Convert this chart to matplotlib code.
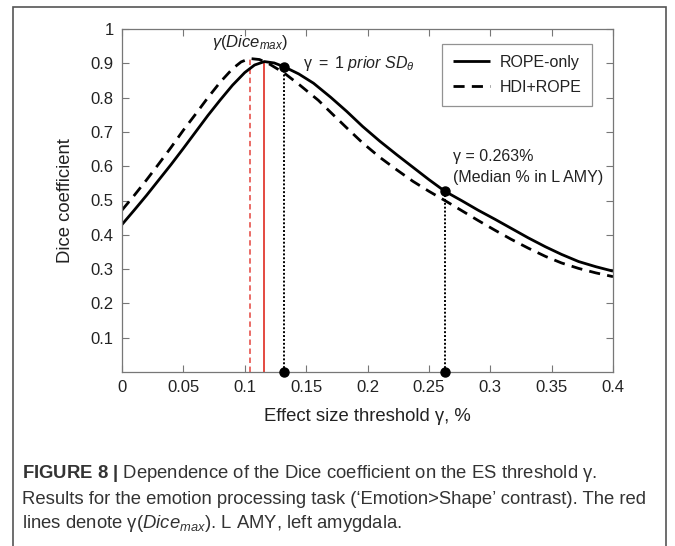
import matplotlib
matplotlib.use("Agg")
import matplotlib.pyplot as plt
from matplotlib.patches import Rectangle

plt.rcParams['font.family'] = ['Liberation Sans', 'DejaVu Sans']
plt.rcParams['mathtext.fontset'] = 'custom'
plt.rcParams['mathtext.rm'] = 'Liberation Sans'
plt.rcParams['mathtext.it'] = 'Liberation Sans:italic'
plt.rcParams['mathtext.bf'] = 'Liberation Sans:bold'

# ---- data ----
rope_x = [0.0, 0.01, 0.02, 0.03, 0.04, 0.05, 0.06, 0.07, 0.08, 0.09, 0.10, 0.108,
          0.116, 0.124, 0.132, 0.144, 0.156, 0.17, 0.183, 0.196, 0.21, 0.224,
          0.237, 0.25, 0.263, 0.277, 0.29, 0.304, 0.317, 0.331, 0.345, 0.358,
          0.372, 0.386, 0.4]
rope_y = [0.430, 0.472, 0.515, 0.560, 0.605, 0.652, 0.700, 0.748, 0.793, 0.836, 0.873, 0.895,
          0.905, 0.901, 0.890, 0.869, 0.842, 0.801, 0.760, 0.716, 0.673, 0.633,
          0.597, 0.561, 0.527, 0.499, 0.472, 0.445, 0.419, 0.391, 0.365, 0.343,
          0.322, 0.307, 0.294]

hdi_x = [0.0, 0.01, 0.02, 0.03, 0.04, 0.05, 0.06, 0.07, 0.08, 0.09, 0.097, 0.104,
         0.112, 0.12, 0.132, 0.145, 0.16, 0.17, 0.183, 0.196, 0.21, 0.224,
         0.237, 0.25, 0.263, 0.277, 0.29, 0.304, 0.317, 0.331, 0.345, 0.358,
         0.372, 0.386, 0.4]
hdi_y = [0.472, 0.515, 0.560, 0.607, 0.655, 0.705, 0.752, 0.800, 0.845, 0.884, 0.904, 0.914,
         0.911, 0.898, 0.872, 0.836, 0.792, 0.757, 0.712, 0.668, 0.626, 0.589,
         0.556, 0.527, 0.500, 0.470, 0.442, 0.413, 0.387, 0.361, 0.337, 0.318,
         0.302, 0.289, 0.278]

peak_rope = (0.116, 0.905)
peak_hdi = (0.104, 0.914)
marked_x = [0.132, 0.263]
marked_y = [0.890, 0.527]

x_ticks = [0, 0.05, 0.1, 0.15, 0.2, 0.25, 0.3, 0.35, 0.4]
x_ticklabels = ['0', '0.05', '0.1', '0.15', '0.2', '0.25', '0.3', '0.35', '0.4']
y_ticks = [0.1, 0.2, 0.3, 0.4, 0.5, 0.6, 0.7, 0.8, 0.9, 1.0]
y_ticklabels = ['0.1', '0.2', '0.3', '0.4', '0.5', '0.6', '0.7', '0.8', '0.9', '1']

W, H = 675, 546
fig = plt.figure(figsize=(W / 100, H / 100), dpi=100)
ax = fig.add_axes([122 / W, 1 - 372 / H, (613 - 122) / W, (372 - 29) / H])

red = '#e23a32'
ax.plot([peak_hdi[0], peak_hdi[0]], [0, peak_hdi[1]], color='#e8605a', lw=1.3, ls=(0, (3, 2)))
ax.plot([peak_rope[0], peak_rope[0]], [0, peak_rope[1]], color=red, lw=1.3)

for mx, my in zip(marked_x, marked_y):
    ax.plot([mx, mx], [0, my], color='black', lw=1.4, ls=(0, (1, 1)))
    ax.plot([mx, mx], [0, my], 'o', color='black', ms=6.5, clip_on=False, zorder=5)

ax.plot(rope_x, rope_y, color='black', lw=2.0, label='ROPE-only', solid_capstyle='butt')
ax.plot(hdi_x, hdi_y, color='black', lw=2.0, ls=(0, (4, 2.6)), label='HDI+ROPE')

ax.set_xlim(0, 0.4)
ax.set_ylim(0, 1)
ax.set_xticks(x_ticks)
ax.set_xticklabels(x_ticklabels)
ax.set_yticks(y_ticks)
ax.set_yticklabels(y_ticklabels)
ax.tick_params(direction='in', top=True, right=True, length=5, width=0.8,
               color='#777777', labelsize=12, labelcolor='#222222', pad=6)
for s in ax.spines.values():
    s.set_color('#777777')
    s.set_linewidth(0.9)

ax.set_xlabel('Effect size threshold γ, %', fontsize=13.3, color='#222222', labelpad=9)
ax.set_ylabel('Dice coefficient', fontsize=13.3, color='#222222', labelpad=12)

ax.text(0.104, 0.962, r'$\gamma(Dice_{max})$', fontsize=12, ha='center', va='center', color='#222222')
ax.text(0.1475, 0.90, r'$\mathrm{\gamma\ =\ 1}\ prior\ SD_{\theta}$', fontsize=11.5,
        ha='left', va='center', color='#222222')
ax.text(0.2697, 0.627, 'γ = 0.263%', fontsize=11.5, ha='left', va='center', color='#222222')
ax.text(0.2697, 0.568, '(Median % in L AMY)', fontsize=11.5, ha='left', va='center', color='#222222')

leg = ax.legend(loc='upper right', bbox_to_anchor=(0.958, 0.957), fontsize=11.5,
                frameon=True, fancybox=False, edgecolor='#777777', handlelength=2.3,
                handletextpad=0.6, borderpad=0.7, labelspacing=0.6, borderaxespad=0)
leg.get_frame().set_linewidth(0.9)
for t in leg.get_texts():
    t.set_color('#222222')

# outer frame
fig.add_artist(Rectangle((13 / W, -0.05), (666 - 13) / W, 1.05 - 7 / H, transform=fig.transFigure,
                         fill=False, edgecolor='#555555', lw=1.2, clip_on=False))

cap_color = '#333333'
fig.text(22 / W, 1 - 474 / H,
         r'$\mathbf{FIGURE\ 8\ |}$ Dependence of the Dice coefficient on the ES threshold γ.',
         fontsize=13.3, color=cap_color, ha='left', va='center')
fig.text(22 / W, 1 - 500 / H,
         'Results for the emotion processing task (‘Emotion>Shape’ contrast). The red',
         fontsize=13.3, color=cap_color, ha='left', va='center')
fig.text(22 / W, 1 - 523 / H,
         r'lines denote γ$\it{(Dice_{max})}$. L AMY, left amygdala.',
         fontsize=13.3, color=cap_color, ha='left', va='center')

fig.savefig('out.png', dpi=100)
